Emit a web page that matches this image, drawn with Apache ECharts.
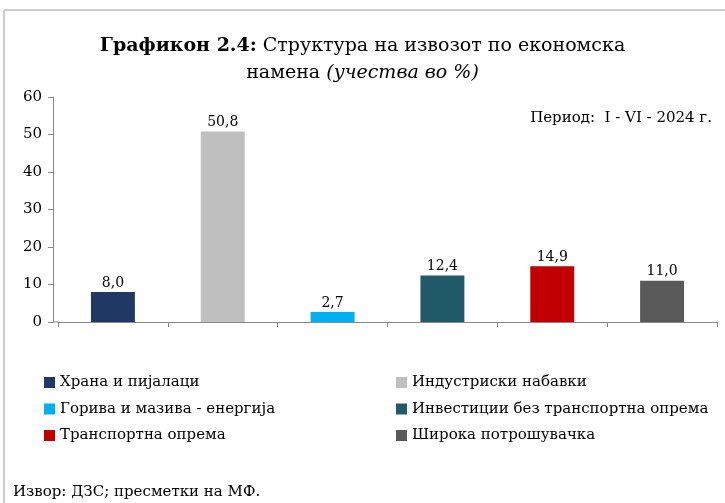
<!DOCTYPE html>
<html>
<head>
<meta charset="utf-8">
<script src="https://cdn.jsdelivr.net/npm/echarts@6/dist/echarts.min.js"></script>
<style>
  html, body { margin: 0; padding: 0; background: #fff; }
  #main { width: 725px; height: 503px; }
</style>
</head>
<body>
<div id="main"></div>
<script>
// податоци
var categories = ['Храна и пијалаци', 'Индустриски набавки', 'Горива и мазива - енергија',
    'Инвестиции без транспортна опрема', 'Транспортна опрема', 'Широка потрошувачка'];
var values = [8.0, 50.8, 2.7, 12.4, 14.9, 11.0];
var colors = ['#1F3864', '#BFBFBF', '#00B0F0', '#215A69', '#C00000', '#595959'];
var yTicks = [0, 10, 20, 30, 40, 50, 60];

var font = 'DejaVu Serif';
var myChart = echarts.init(document.getElementById('main'));

// секоја категорија е посебна серија за да има своја легенда
var series = categories.map(function (name, i) {
    var d = values.map(function (v, j) { return j === i ? v : '-'; });
    return {
        name: name,
        type: 'bar',
        stack: 'all',
        data: d,
        barWidth: '40%',
        itemStyle: { color: colors[i] },
        label: {
            show: true,
            position: 'top',
            distance: 2,
            fontFamily: font,
            fontSize: 14,
            color: '#000',
            formatter: function (p) { return p.value.toFixed(1).replace('.', ','); }
        }
    };
});

var legendText = { fontFamily: font, fontSize: 15, color: '#000' };

var option = {
    backgroundColor: '#fff',
    animation: false,
    textStyle: { fontFamily: font },
    title: {
        left: 'center',
        top: 28,
        text: '{b|Графикон 2.4:} Структура на извозот по економска\nнамена {i|(учества во %)}',
        textStyle: {
            fontFamily: font,
            fontSize: 19,
            fontWeight: 'normal',
            color: '#000',
            lineHeight: 27,
            rich: {
                b: { fontFamily: font, fontSize: 19, fontWeight: 'bold', color: '#000' },
                i: { fontFamily: font, fontSize: 19, fontStyle: 'italic', color: '#000' }
            }
        }
    },
    legend: [
        {
            orient: 'vertical', left: 39, top: 370, itemGap: 11.5,
            itemWidth: 11, itemHeight: 11, icon: 'rect',
            data: [categories[0], categories[2], categories[4]],
            textStyle: legendText
        },
        {
            orient: 'vertical', left: 391, top: 370, itemGap: 11.5,
            itemWidth: 11, itemHeight: 11, icon: 'rect',
            data: [categories[1], categories[3], categories[5]],
            textStyle: legendText
        }
    ],
    grid: { left: 58, right: 8, top: 97, bottom: 181 },
    xAxis: {
        type: 'category',
        data: categories,
        axisLine: { lineStyle: { color: '#888' } },
        axisTick: { show: true, interval: 0, length: 5, lineStyle: { color: '#888' } },
        axisLabel: { show: false, interval: 0 }
    },
    yAxis: {
        type: 'value',
        min: yTicks[0],
        max: yTicks[yTicks.length - 1],
        interval: 10,
        offset: 5,
        axisLine: { show: true, lineStyle: { color: '#888' } },
        axisTick: { show: true, length: 5, lineStyle: { color: '#888' } },
        splitLine: { show: false },
        axisLabel: { fontFamily: font, fontSize: 15, color: '#000', margin: 11 }
    },
    graphic: [
        // рамка
        { type: 'line', shape: { x1: 4, y1: 10, x2: 725, y2: 10 }, style: { stroke: '#BBB', lineWidth: 1.5 } },
        { type: 'line', shape: { x1: 4, y1: 10, x2: 4, y2: 503 }, style: { stroke: '#BBB', lineWidth: 1.5 } },
        // x-оската почнува од y-оската
        { type: 'line', shape: { x1: 53, y1: 322, x2: 58, y2: 322 }, style: { stroke: '#888', lineWidth: 1 } },
        {
            type: 'text', right: 13, top: 111,
            style: { text: 'Период:  I - VI - 2024 г.', font: '15px "DejaVu Serif"', fill: '#000' }
        },
        {
            type: 'text', left: 13, top: 485,
            style: { text: 'Извор: ДЗС; пресметки на МФ.', font: '15px "DejaVu Serif"', fill: '#000' }
        }
    ],
    series: series
};
myChart.setOption(option);
</script>
</body>
</html>
